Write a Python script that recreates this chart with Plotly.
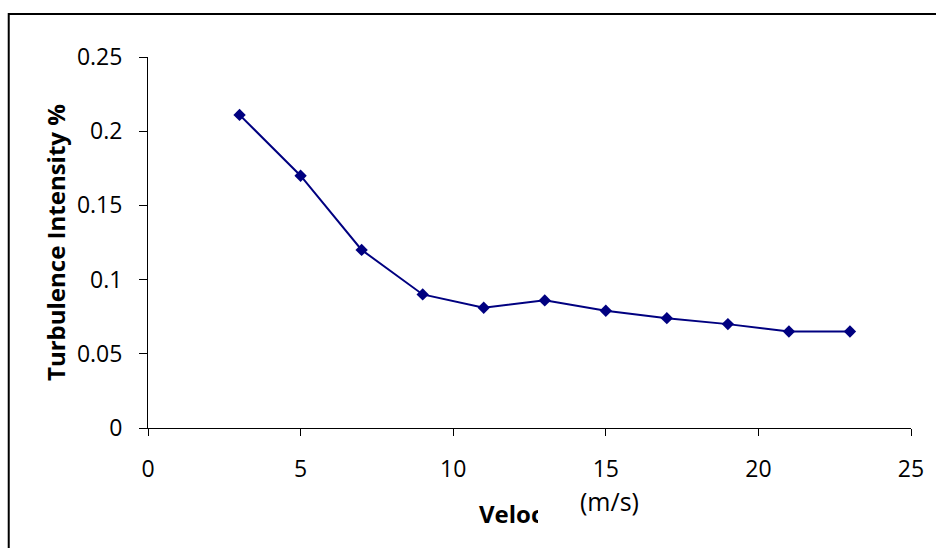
import plotly.graph_objects as go

# Wind-tunnel measurements: turbulence intensity versus free-stream velocity
velocity = [3, 5, 7, 9, 11, 13, 15, 17, 19, 21, 23]
turbulence = [0.211, 0.17, 0.12, 0.09, 0.081, 0.086, 0.079, 0.074, 0.07, 0.065, 0.065]

x_ticks = [0, 5, 10, 15, 20, 25]
y_ticks = [0, 0.05, 0.1, 0.15, 0.2, 0.25]

W, H = 936, 548
ML, MR, MT, MB = 148, 21, 57, 120
PW, PH = W - ML - MR, H - MT - MB


def px(x):
    return (x - ML) / PW


def py(y):
    return (H - MB - y) / PH


FONT = "Open Sans"
NAVY = "#000080"

fig = go.Figure(
    go.Scatter(
        x=velocity,
        y=turbulence,
        mode="lines+markers",
        line=dict(color=NAVY, width=2),
        marker=dict(symbol="diamond", size=9.5, color=NAVY),
        cliponaxis=False,
        showlegend=False,
    )
)

fig.update_xaxes(
    range=[0, 25],
    tickvals=x_ticks,
    ticktext=[str(v) for v in x_ticks],
    showgrid=False,
    zeroline=False,
    showline=True,
    linecolor="black",
    linewidth=1,
    ticks="outside",
    ticklen=7,
    tickwidth=1,
    tickcolor="black",
    ticklabelstandoff=13,
    tickfont=dict(family=FONT, size=23, color="black"),
)
fig.update_yaxes(
    range=[0, 0.25],
    tickvals=y_ticks,
    ticktext=[f"{v:g}" for v in y_ticks],
    showgrid=False,
    zeroline=False,
    showline=True,
    linecolor="black",
    linewidth=1,
    ticks="outside",
    ticklen=8,
    tickwidth=1,
    tickcolor="black",
    ticklabelstandoff=12,
    tickfont=dict(family=FONT, size=23, color="black"),
)

annotations = [
    # y-axis title
    dict(
        text="<b>Turbulence Intensity %</b>",
        x=px(55), y=0.5, xref="paper", yref="paper",
        xanchor="center", yanchor="middle", textangle=-90,
        showarrow=False, font=dict(family=FONT, size=24, color="black"),
    ),
    # x-axis title, partly hidden behind the units text box
    dict(
        text="<b>Veloc</b>",
        x=px(479), y=py(513), xref="paper", yref="paper",
        xanchor="left", yanchor="middle",
        showarrow=False, font=dict(family=FONT, size=24, color="black"),
    ),
    dict(
        text="x",
        x=px(540), y=py(496), xref="paper", yref="paper",
        xanchor="left", yanchor="top", width=38, height=40,
        bgcolor="white", borderpad=0, borderwidth=0,
        showarrow=False, font=dict(family=FONT, size=10, color="white"),
    ),
    dict(
        text="(m/s)",
        x=px(612), y=py(501), xref="paper", yref="paper",
        xanchor="center", yanchor="middle",
        showarrow=False, font=dict(family=FONT, size=25, color="black"),
    ),
]

# outer chart frame
shapes = [
    dict(
        type="rect", xref="paper", yref="paper",
        x0=px(8), x1=px(960), y0=py(14), y1=py(600),
        line=dict(color="black", width=2), fillcolor="rgba(0,0,0,0)",
        layer="below",
    )
]

fig.update_layout(
    width=W,
    height=H,
    margin=dict(l=ML, r=MR, t=MT, b=MB),
    paper_bgcolor="white",
    plot_bgcolor="white",
    annotations=annotations,
    shapes=shapes,
)

fig.write_html("out.html")
